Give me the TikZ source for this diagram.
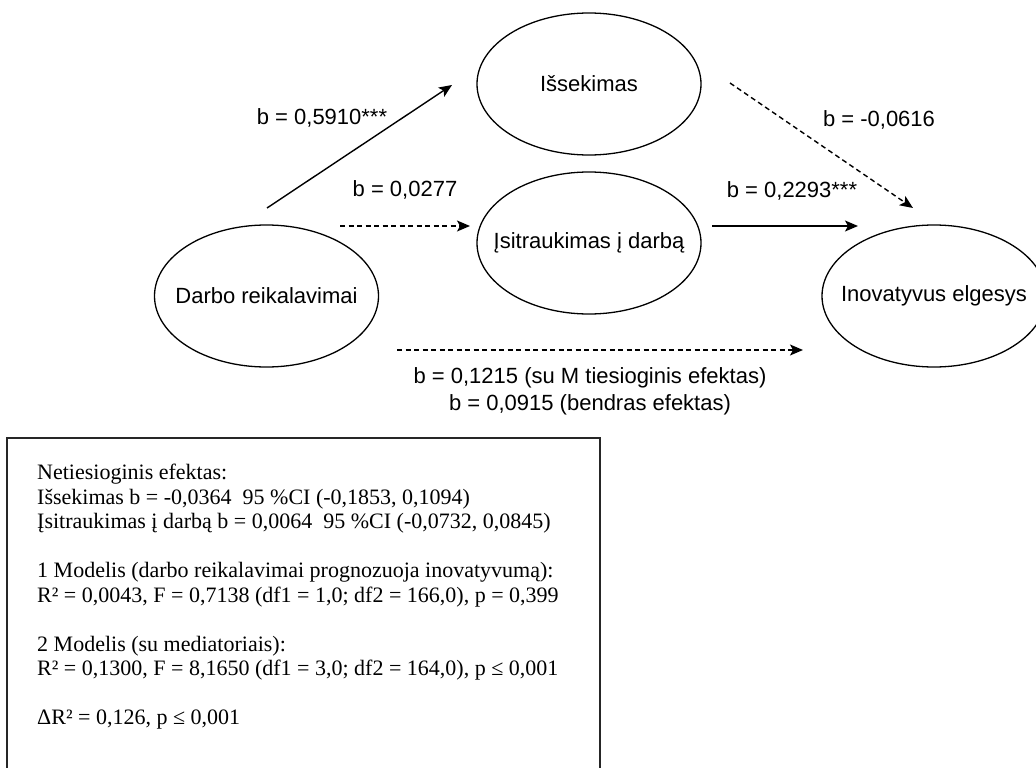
\documentclass[tikz,border=0pt]{standalone}
\usepackage{fontspec}
\setmainfont{Liberation Serif}
\newfontfamily\sansfont{Liberation Sans}
\usetikzlibrary{shapes.geometric,arrows.meta}

\tikzset{
  var/.style={ellipse, draw, line width=1.3pt, minimum width=224pt,
    minimum height=142pt, inner sep=0pt,
    font=\sansfont\fontsize{22}{26}\selectfont},
  effect/.style={line width=1.4pt, -{Stealth[length=13pt,width=11pt,inset=3pt]}},
  weakeffect/.style={effect, dash pattern=on 5pt off 3.5pt},
  coef/.style={font=\sansfont\fontsize{22}{26.7}\selectfont, inner sep=0pt, align=center},
  summary/.style={draw=black!85, line width=1.8pt}
}

\begin{document}
\begin{tikzpicture}[x=1pt, y=-1pt]
  \useasboundingbox (0,0) rectangle (1036,768);
  \clip (0,0) rectangle (1036,768);

  % variables of the mediation model
  \node[var] (demands) at (266.5,296) {\makebox[0pt]{Darbo reikalavimai}};
  \node[var] (exhaust) at (589,84)    {\makebox[0pt]{Išsekimas}};
  \node[var] (engage)  at (589,243)   {\makebox[0pt]{Įsitraukimas į darbą}};
  \node[var] (innov)   at (934,296)   {\makebox[0pt]{Inovatyvus elgesys}};

  % free arrow end points
  \coordinate (a1s) at (267,208); \coordinate (a1e) at (452,85);
  \coordinate (a2s) at (340,226); \coordinate (a2e) at (470,226);
  \coordinate (a3s) at (712,226); \coordinate (a3e) at (858,226);
  \coordinate (a4s) at (730,83);  \coordinate (a4e) at (913,208);
  \coordinate (a5s) at (397,350); \coordinate (a5e) at (803,350);

  % paths
  \draw[effect]     (a1s) -- (a1e);
  \draw[weakeffect] (a2s) -- (a2e);
  \draw[effect]     (a3s) -- (a3e);
  \draw[weakeffect] (a4s) -- (a4e);
  \draw[weakeffect] (a5s) -- (a5e);

  % coefficients
  \node[coef] (c1) at (322,118) {b = 0,5910***};
  \node[coef] (c2) at (405,190) {b = 0,0277};
  \node[coef] (c3) at (879,120) {b = -0,0616};
  \node[coef] (c4) at (792,191) {b = 0,2293***};
  \node[coef] (c5) at (590,391.5) {b = 0,1215 (su M tiesioginis efektas)\\b = 0,0915 (bendras efektas)};

  % summary of the indirect effects and model fit
  \draw[summary] (7,438) rectangle (600,800);
  \node[anchor=north west, inner sep=0pt, align=left,
        font=\fontsize{22}{24.5}\selectfont] (stats) at (37,464) {%
    Netiesioginis efektas:\\
    Išsekimas b = -0,0364\ \ 95 \%CI (-0,1853, 0,1094)\\
    Įsitraukimas į darbą b = 0,0064\ \ 95 \%CI (-0,0732, 0,0845)\\[24.5pt]
    1 Modelis (darbo reikalavimai prognozuoja inovatyvumą):\\
    R² = 0,0043, F = 0,7138 (df1 = 1,0; df2 = 166,0), p = 0,399\\[24.5pt]
    2 Modelis (su mediatoriais):\\
    R² = 0,1300, F = 8,1650 (df1 = 3,0; df2 = 164,0), p ≤ 0,001\\[24.5pt]
    ΔR² = 0,126, p ≤ 0,001};
\end{tikzpicture}
\end{document}
